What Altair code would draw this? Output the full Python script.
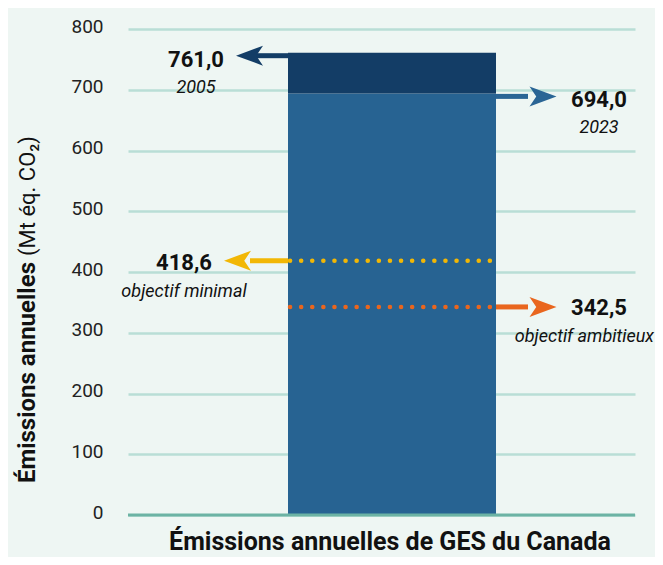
import altair as alt
import pandas as pd

# ---- data ----
years = ["2005", "2023"]
emissions = [761.0, 694.0]
target_names = ["objectif minimal", "objectif ambitieux"]
target_values = [418.6, 342.5]
y_ticks = [0, 100, 200, 300, 400, 500, 600, 700, 800]
category = "Émissions annuelles de GES du Canada"
y_title_bold = "Émissions annuelles"
y_title_unit = "(Mt éq. CO₂)"

FONT = "Roboto, Liberation Sans, sans-serif"
BG = "#eef6f3"
GRID = "#b9ded6"
BASE = "#6cb3a4"
LIGHT = "#276392"
DARK = "#133d66"
ARROW23 = "#2a6595"
YELLOW = "#f2b705"
ORANGE = "#e9661e"

W, H = 507, 486
BAR_W = 208
BAR_SHIFT = 10.5
L = W / 2 + BAR_SHIFT - BAR_W / 2
R = W / 2 + BAR_SHIFT + BAR_W / 2

yscale = alt.Scale(domain=[0, 800], nice=False)
yaxis = alt.Axis(values=y_ticks, grid=True, gridColor=GRID, gridWidth=2.5,
                 ticks=False, domain=False, labelFontSize=19, labelColor="#222222",
                 labelPadding=25, labelOffset=-3, title=None, labelFont=FONT)


def Y(field):
    return alt.Y(field, scale=yscale, axis=yaxis)


def fmt(v):
    return f"{v:.1f}".replace(".", ",")


# bar segments
bars = pd.DataFrame({
    "cat": [category, category],
    "part": [years[1], years[0]],
    "start": [0.0, emissions[1]],
    "end": [emissions[1], emissions[0]],
})

bar = alt.Chart(bars).mark_bar(width=BAR_W, xOffset=BAR_SHIFT).encode(
    x=alt.X("cat:N", axis=None),
    y=Y("start:Q"),
    y2="end:Q",
    color=alt.Color("part:N", scale=alt.Scale(domain=years[::-1], range=[LIGHT, DARK]), legend=None),
)

zero = alt.Chart(pd.DataFrame({"v": [y_ticks[0]]})).mark_rule(color=BASE, strokeWidth=3).encode(
    y=Y("v:Q"), x=alt.value(0), x2=alt.value(W)
)

LEFT_HEAD = "M -1 0 L 1 -0.74 L 0.5 0 L 1 0.74 Z"
RIGHT_HEAD = "M 1 0 L -1 -0.74 L -0.5 0 L -1 0.74 Z"


def arrow(value, color, x1, x2, head_x, shape, y_off=0):
    d = pd.DataFrame({"v": [value]})
    b = alt.Chart(d)
    shaft = b.mark_rule(color=color, strokeWidth=5, yOffset=y_off).encode(
        y=Y("v:Q"), x=alt.value(x1), x2=alt.value(x2))
    head = b.mark_point(shape=shape, size=729, filled=True, opacity=1, color=color,
                        strokeWidth=0, yOffset=y_off).encode(
        y=Y("v:Q"), x=alt.value(head_x))
    return [shaft, head]


def dotted(value, color):
    d = pd.DataFrame({"v": [value]})
    return alt.Chart(d).mark_rule(color=color, strokeWidth=4.5, strokeDash=[0.1, 11],
                                  strokeCap="round").encode(
        y=Y("v:Q"), x=alt.value(L + 2), x2=alt.value(R - 2))


def labels(value, sub, x, dy_main, dy_sub, x_sub=None, align_sub="center"):
    d = pd.DataFrame({"v": [value], "lab": [fmt(value)], "sub": [sub]})
    b = alt.Chart(d)
    main = b.mark_text(font=FONT, fontSize=22, fontWeight="bold", color="#111111",
                       align="center", baseline="alphabetic", dy=dy_main).encode(
        y=Y("v:Q"), x=alt.value(x), text="lab:N")
    s = b.mark_text(font=FONT, fontSize=18, fontStyle="italic", color="#111111",
                    align=align_sub, baseline="alphabetic", dy=dy_sub).encode(
        y=Y("v:Q"), x=alt.value(x if x_sub is None else x_sub), text="sub:N")
    return [main, s]


layers = [bar, zero]
layers += [dotted(target_values[0], YELLOW), dotted(target_values[1], ORANGE)]
layers += arrow(emissions[0], DARK, L, L - 32, L - 38.5, LEFT_HEAD, 3)
layers += arrow(emissions[1], ARROW23, R, R + 32, R + 47, RIGHT_HEAD, 3)
layers += arrow(target_values[0], YELLOW, L, L - 38, L - 50.5, LEFT_HEAD, 0)
layers += arrow(target_values[1], ORANGE, R, R + 32, R + 47, RIGHT_HEAD, 0)
layers += labels(emissions[0], years[0], 68, 14, 40)
layers += labels(emissions[1], years[1], 471, 14, 40)
layers += labels(target_values[0], target_names[0], 56, 9.5, 36)
layers += labels(target_values[1], target_names[1], 471, 8, 35, x_sub=526, align_sub="right")

ytitle_bold = alt.Chart(pd.DataFrame({"t": [y_title_bold]})).mark_text(
    font=FONT, fontSize=24, fontWeight="bold", color="#111111", angle=270,
    align="right", baseline="middle").encode(x=alt.value(-100), y=alt.value(233), text="t:N")
ytitle_unit = alt.Chart(pd.DataFrame({"t": [y_title_unit]})).mark_text(
    font=FONT, fontSize=22, color="#111111", angle=270,
    align="left", baseline="middle").encode(x=alt.value(-100), y=alt.value(227), text="t:N")
xtitle = alt.Chart(pd.DataFrame({"t": [category]})).mark_text(
    font=FONT, fontSize=25, fontWeight="bold", color="#111111",
    align="center", baseline="alphabetic").encode(x=alt.value(262), y=alt.value(521), text="t:N")

layers += [ytitle_bold, ytitle_unit, xtitle]

chart = alt.layer(*layers).properties(
    width=W, height=H,
    autosize=alt.AutoSizeParams(type="none"),
    padding={"left": 120, "top": 21, "right": 20, "bottom": 42},
    background=BG,
).configure_view(strokeWidth=0).configure_axis(labelFont=FONT)

chart.save("out.html", embed_options={"renderer": "svg", "actions": False})
